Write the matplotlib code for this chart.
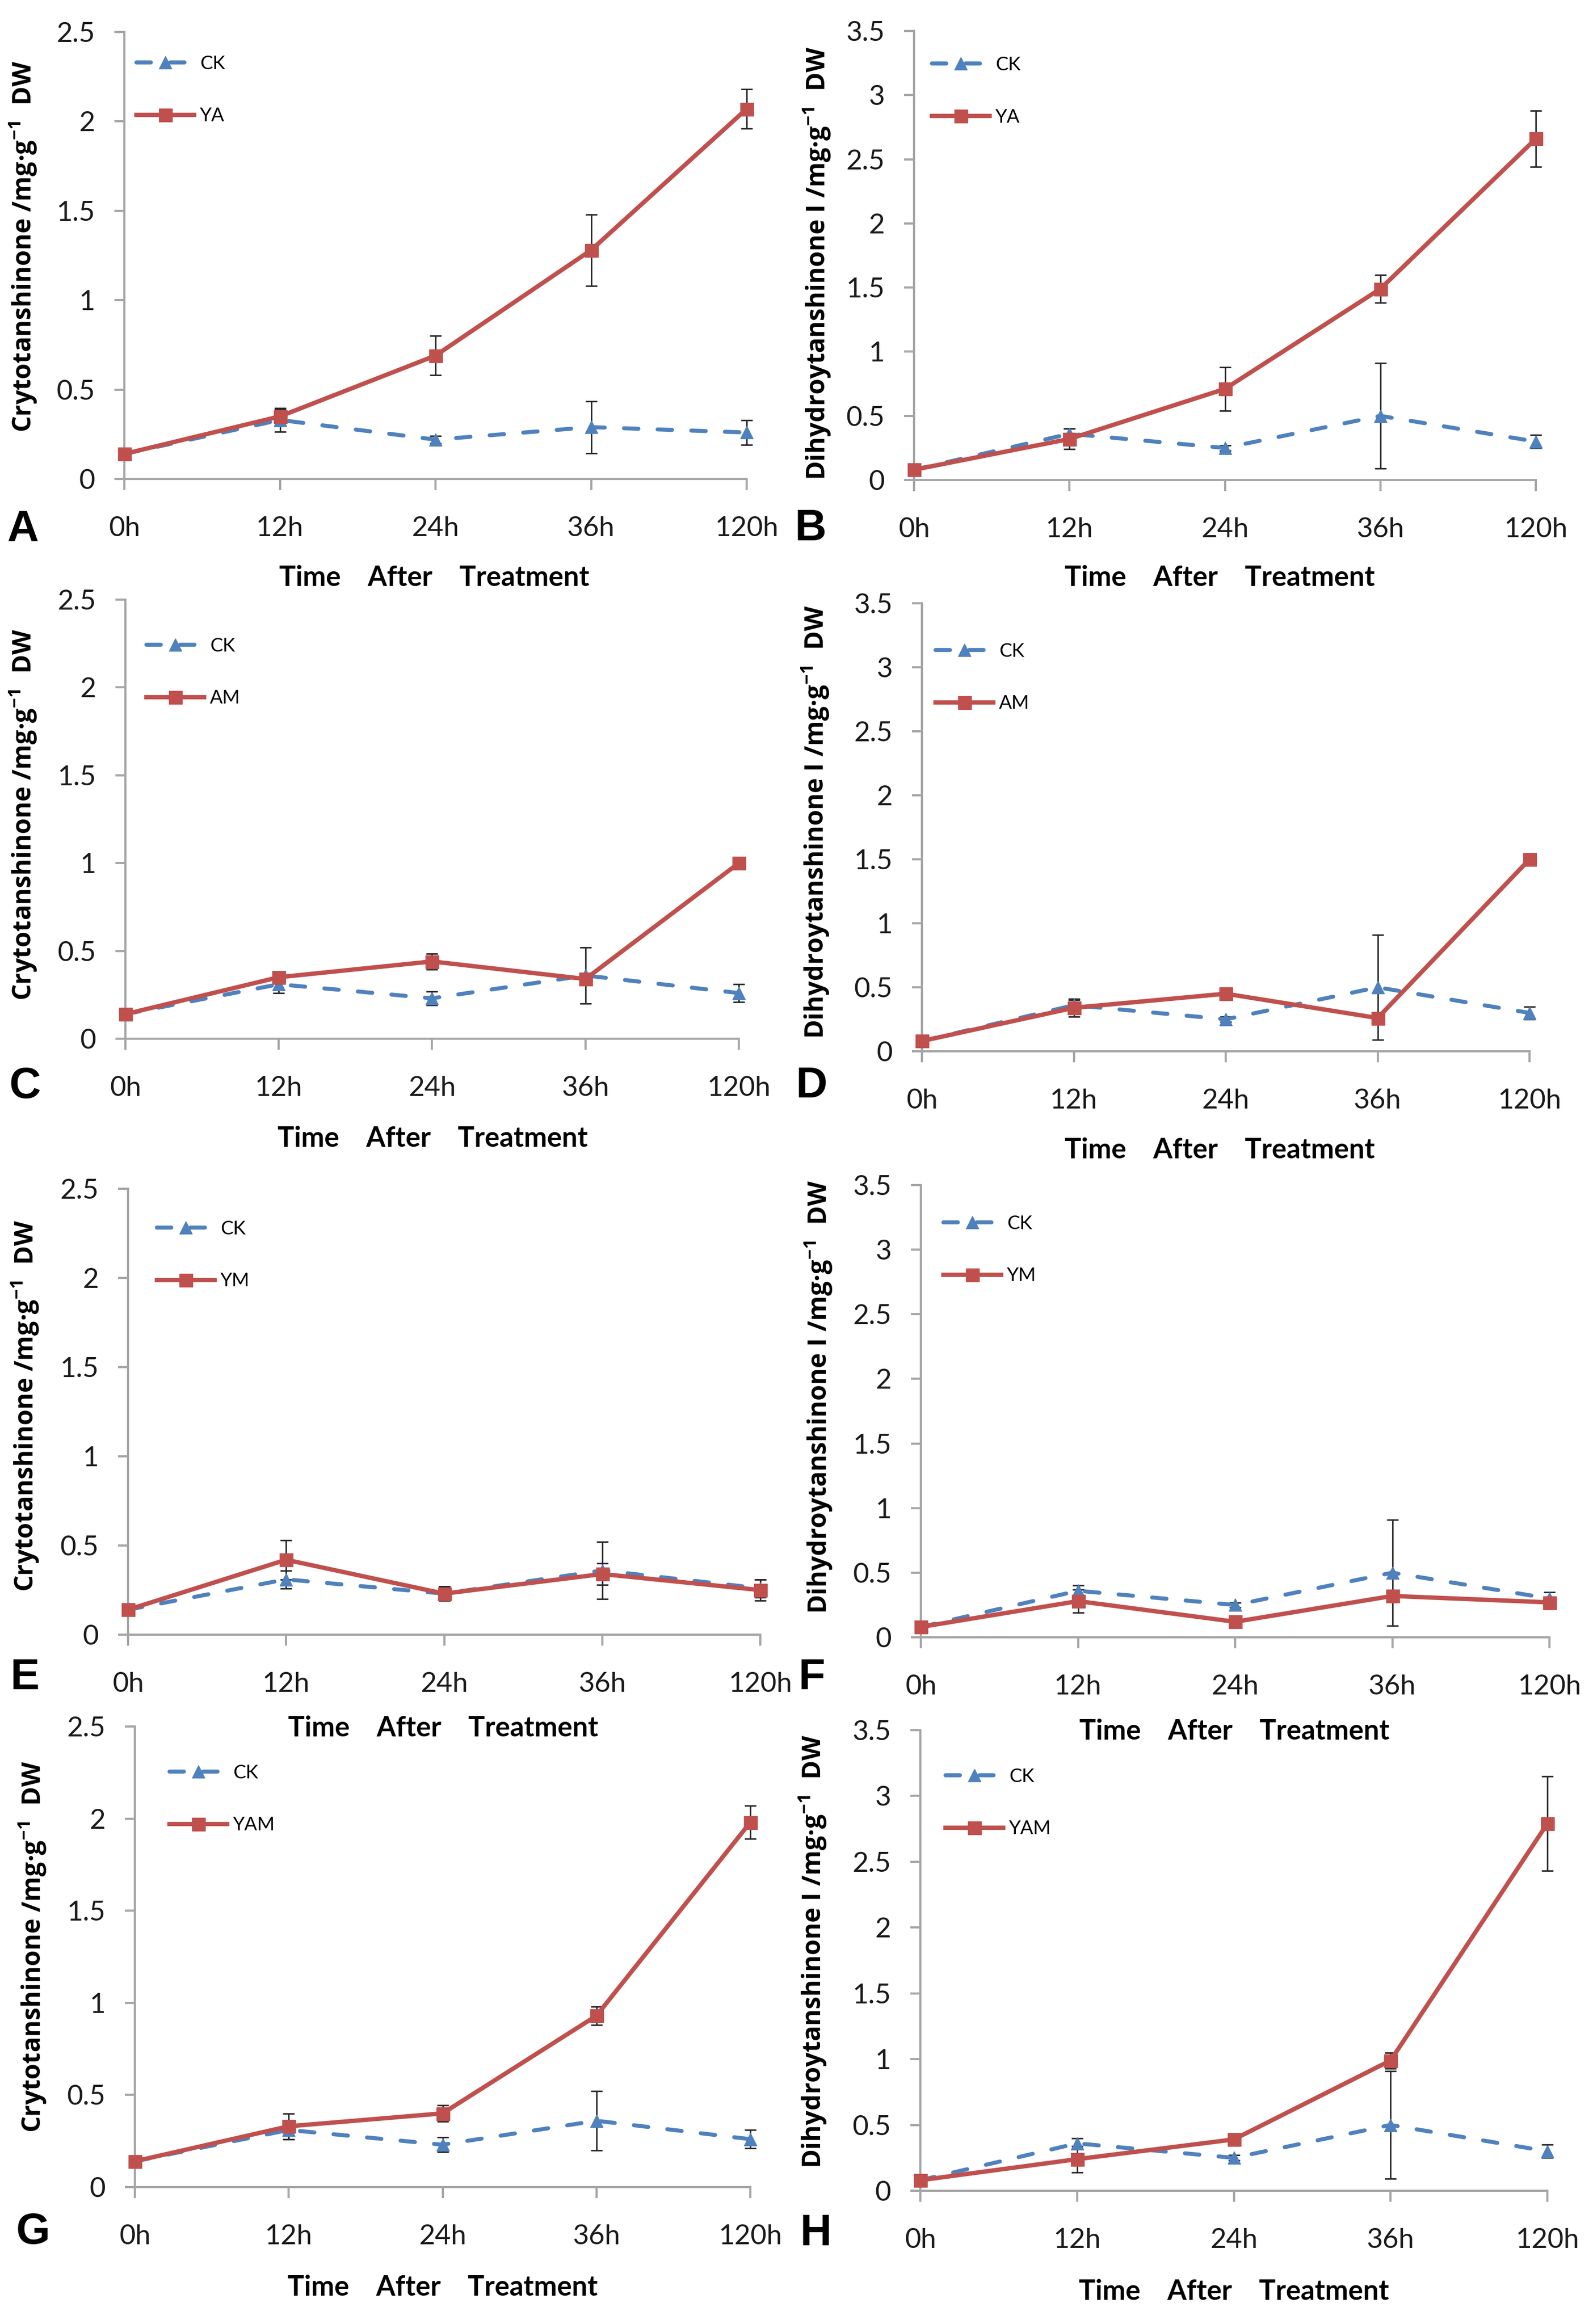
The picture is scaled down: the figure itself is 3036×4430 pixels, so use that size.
import matplotlib
matplotlib.use('Agg')
import matplotlib.pyplot as plt

plt.rcParams['mathtext.fontset'] = 'custom'
plt.rcParams['mathtext.rm'] = 'Open Sans:bold'
plt.rcParams['mathtext.bf'] = 'Open Sans:bold'
plt.rcParams['mathtext.default'] = 'rm'

hours = ['0h', '12h', '24h', '36h', '120h']

# cryptotanshinone, mg/g DW
ck_ct_a = [0.14, 0.33, 0.22, 0.29, 0.26]
ck_ct_a_err = [0.01, 0.065, 0.02, 0.145, 0.07]
ck_ct = [0.14, 0.31, 0.23, 0.36, 0.26]
ck_ct_err = [0.01, 0.05, 0.04, 0.16, 0.05]
ya_ct = [0.14, 0.35, 0.69, 1.28, 2.07]
ya_ct_err = [0.01, 0.04, 0.11, 0.20, 0.11]
am_ct = [0.14, 0.35, 0.44, 0.34, 1.00]
am_ct_err = [0.01, 0.03, 0.045, 0.02, 0.01]
ym_ct = [0.14, 0.42, 0.23, 0.34, 0.25]
ym_ct_err = [0.01, 0.11, 0.04, 0.06, 0.06]
yam_ct = [0.14, 0.33, 0.40, 0.93, 1.98]
yam_ct_err = [0.01, 0.07, 0.045, 0.05, 0.09]

# dihydrotanshinone I, mg/g DW
ck_dt = [0.08, 0.36, 0.25, 0.50, 0.30]
ck_dt_err = [0.01, 0.04, 0.02, 0.41, 0.05]
ya_dt = [0.08, 0.32, 0.71, 1.49, 2.66]
ya_dt_err = [0.01, 0.08, 0.17, 0.11, 0.22]
am_dt = [0.08, 0.34, 0.45, 0.26, 1.50]
am_dt_err = [0.01, 0.07, 0.02, 0.02, 0.02]
ym_dt = [0.08, 0.28, 0.12, 0.32, 0.27]
ym_dt_err = [0.01, 0.09, 0.02, 0.03, 0.03]
yam_dt = [0.08, 0.24, 0.39, 0.99, 2.79]
yam_dt_err = [0.01, 0.10, 0.02, 0.06, 0.36]

ct_label = 'Crytotanshinone /mg·g$^{-1}$  DW'
dt_label = 'Dihydroytanshinone I /mg·g$^{-1}$  DW'

W, H = 3036, 4430
BLUE = '#4F81BD'
RED = '#C0504D'
GRID = '#A6A6A6'

# letter, treatment name, ck, ck err, trt, trt err, ymax, ylabel,
# axes box (left, right, top, bottom px), legend offsets (px from axis left, px from top for row1, row2),
# ylabel pos, letter pos, xlabel pos
panels = [
    ('A', 'YA', ck_ct_a, ck_ct_a_err, ya_ct, ya_ct_err, 2.5, ct_label,
     (237, 1423, 61, 913), (23, 60, 160), (44, 470), (44, 1010), (828, 1102)),
    ('B', 'YA', ck_dt, ck_dt_err, ya_dt, ya_dt_err, 3.5, dt_label,
     (1742, 2927, 59, 915), (34, 65, 164), (1557, 502), (1544, 1008), (2325, 1102)),
    ('C', 'AM', ck_ct, ck_ct_err, am_ct, am_ct_err, 2.5, ct_label,
     (239, 1408, 1143, 1980), (40, 89, 187), (44, 1553), (48, 2071), (825, 2171)),
    ('D', 'AM', ck_dt, ck_dt_err, am_dt, am_dt_err, 3.5, dt_label,
     (1757, 2915, 1150, 2004), (26, 91, 191), (1554, 1567), (1546, 2070), (2325, 2192)),
    ('E', 'YM', ck_ct, ck_ct_err, ym_ct, ym_ct_err, 2.5, ct_label,
     (244, 1449, 2266, 3116), (55, 77, 175), (48, 2680), (47, 3198), (845, 3295)),
    ('F', 'YM', ck_dt, ck_dt_err, ym_dt, ym_dt_err, 3.5, dt_label,
     (1755, 2953, 2259, 3121), (43, 73, 173), (1560, 2663), (1547, 3198), (2353, 3300)),
    ('G', 'YAM', ck_ct, ck_ct_err, yam_ct, yam_ct_err, 2.5, ct_label,
     (257, 1430, 3291, 4169), (66, 88, 188), (62, 3711), (63, 4255), (844, 4361)),
    ('H', 'YAM', ck_dt, ck_dt_err, yam_dt, yam_dt_err, 3.5, dt_label,
     (1754, 2949, 3298, 4176), (48, 87, 189), (1549, 3720), (1554, 4258), (2352, 4369)),
]

fig = plt.figure(figsize=(W / 100, H / 100), dpi=100, facecolor='white')

for (letter, trt, ck, ck_err, tr, tr_err, ymax, ylab,
     box, leg, ylpos, letpos, xlpos) in panels:
    L, R, T, B = box
    ax = fig.add_axes([L / W, 1 - B / H, (R - L) / W, (B - T) / H])
    x = list(range(len(hours)))

    ax.errorbar(x, ck, yerr=ck_err, fmt='none', ecolor='#262626', elinewidth=2,
                capsize=8, capthick=2, zorder=2, clip_on=False)
    ax.errorbar(x, tr, yerr=tr_err, fmt='none', ecolor='#262626', elinewidth=2,
                capsize=8, capthick=2, zorder=2, clip_on=False)
    ax.plot(x, ck, color=BLUE, lw=5.5, ls=(0, (3.6, 4.8)), dash_capstyle='round',
            marker='^', ms=17, mec=BLUE, mfc=BLUE, label='CK', zorder=3, clip_on=False)
    ax.plot(x, tr, color=RED, lw=6, marker='s', ms=18, mec=RED, mfc=RED,
            label=trt, zorder=4, clip_on=False)

    ax.set_xlim(0, len(hours) - 1)
    ax.set_ylim(0, ymax)
    ax.set_xticks(x)
    ax.set_xticklabels(hours)
    yt = [i * 0.5 for i in range(int(ymax / 0.5) + 1)]
    ax.set_yticks(yt)
    ax.set_yticklabels(['%g' % v for v in yt])

    for s in ['top', 'right']:
        ax.spines[s].set_visible(False)
    for s in ['left', 'bottom']:
        ax.spines[s].set_color(GRID)
        ax.spines[s].set_linewidth(3)
    ax.tick_params(axis='x', direction='out', length=15, width=3, color=GRID,
                   pad=36, labelsize=38, labelcolor='#1a1a1a')
    ax.tick_params(axis='y', direction='out', length=14, width=3, color=GRID,
                   pad=26, labelsize=38, labelcolor='#1a1a1a')
    for lab in ax.get_xticklabels() + ax.get_yticklabels():
        lab.set_fontfamily('Lato')

    lx, r1, r2 = leg
    ymid = 1 - ((r1 + r2) / 2) / (B - T)
    ax.legend(loc='center left', bbox_to_anchor=(lx / (R - L), ymid), frameon=False,
              borderpad=0, borderaxespad=0, handlelength=3.05, handletextpad=0.3,
              labelspacing=1.85, prop={'family': 'Lato', 'size': 26})

    fig.text(ylpos[0] / W, 1 - ylpos[1] / H, ylab, rotation=90, ha='center', va='center',
             fontsize=35, fontweight='bold', family='Open Sans')
    fig.text(letpos[0] / W, 1 - letpos[1] / H, letter, ha='center', va='center',
             fontsize=60, fontweight='bold', family='Liberation Sans')
    fig.text(xlpos[0] / W, 1 - xlpos[1] / H, 'Time    After    Treatment', ha='center',
             va='center', fontsize=38, fontweight='bold', family='Lato')

fig.savefig('out.png', dpi=100, facecolor='white')
